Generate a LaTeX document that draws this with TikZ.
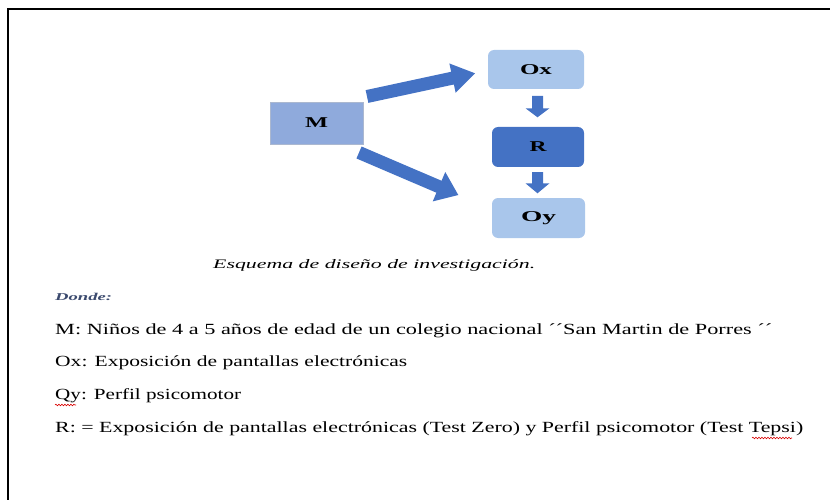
\documentclass[tikz,border=0pt]{standalone}
\usepackage{fontspec}
\usepackage{graphicx}
\setmainfont{Liberation Serif}
\usetikzlibrary{calc,decorations.pathmorphing}
\definecolor{arrblue}{HTML}{4472C4}
\definecolor{mbox}{HTML}{8FAADC}
\definecolor{obox}{HTML}{A9C6EB}
\definecolor{rbox}{HTML}{4472C4}
\definecolor{dondec}{HTML}{3B4A6E}
\newcommand\wtext[2]{\resizebox{#1}{\height}{#2}}
\newcommand\blockarr[5]{%
  \coordinate (bh) at ($(#2)!#5!(#1)$);
  \fill[arrblue] ($(#1)!#3!90:(#2)$) -- ($(bh)!#3!-90:(#1)$) -- ($(bh)!#4!-90:(#1)$) -- (#2)
    -- ($(bh)!#4!90:(#1)$) -- ($(bh)!#3!90:(#1)$) -- ($(#1)!#3!-90:(#2)$) -- cycle;}
\tikzset{
  txt/.style={inner sep=0pt, anchor=west, font=\fontsize{15.5}{18}\selectfont},
  lbl/.style={inner sep=0pt, font=\fontsize{15}{18}\selectfont\bfseries},
  squig/.style={red!85!black, line width=0.6pt, decorate, decoration={snake, amplitude=0.8pt, segment length=3pt}}
}
\begin{document}
\begin{tikzpicture}[x=1pt,y=-1pt]
\useasboundingbox (0,0) rectangle (830,500);
% frame
\draw[line width=2pt] (8,500) -- (8,9) -- (830,9);
% boxes
\node[draw=mbox!80!black!60, fill=mbox, minimum width=93pt, minimum height=42pt, inner sep=0pt] (M) at (316.5,123) {};
\node[fill=obox, rounded corners=6pt, minimum width=96pt, minimum height=39pt, inner sep=0pt] (Ox) at (536,69.5) {};
\node[fill=rbox, rounded corners=6pt, minimum width=92pt, minimum height=40pt, inner sep=0pt] (R) at (538,147) {};
\node[fill=obox, rounded corners=6pt, minimum width=93pt, minimum height=40pt, inner sep=0pt] (Oy) at (538.5,218) {};
\node[lbl] at (M) {\wtext{23pt}{M}};
\node[lbl] at (Ox) {\wtext{32pt}{Ox}};
\node[lbl] at (R) {\wtext{17pt}{R}};
\node[lbl] at (Oy) {\wtext{35pt}{Oy}};
% arrows
\coordinate (a1s) at (367,96.5);
\coordinate (a1e) at (475,73.3);
\coordinate (a2s) at (359,152.5);
\coordinate (a2e) at (458.3,195);
\coordinate (a3s) at (537.5,96);
\coordinate (a3e) at (537.5,117.3);
\coordinate (a4s) at (537.5,172);
\coordinate (a4e) at (537.5,193.3);
\blockarr{a1s}{a1e}{6.5pt}{15pt}{23pt}
\blockarr{a2s}{a2e}{6.5pt}{16pt}{21pt}
\blockarr{a3s}{a3e}{5.5pt}{12pt}{9pt}
\blockarr{a4s}{a4e}{5.5pt}{12pt}{10pt}
% texts
\node[txt, font=\fontsize{13}{15}\selectfont\itshape] (cap) at (213,265) {\wtext{322pt}{Esquema de diseño de investigación.}};
\node[txt, font=\fontsize{10.5}{12}\selectfont\bfseries\itshape, text=dondec] (donde) at (55,297) {\wtext{57pt}{Donde:}};
\node[txt] (l1) at (55,331) {\wtext{717pt}{M: Niños de 4 a 5 años de edad de un colegio nacional ´´San Martin de Porres ´´}};
\node[txt] (l2) at (55,363) {\wtext{352pt}{Ox: Exposición de pantallas electrónicas}};
\node[txt] (l3) at (55,396) {\wtext{186pt}{Qy: Perfil psicomotor}};
\node[txt] (l4) at (55,429) {\wtext{748pt}{R: = Exposición de pantallas electrónicas (Test Zero) y Perfil psicomotor (Test Tepsi)}};
\draw[squig] (55,405) -- (76,405);
\draw[squig] (752,438) -- (792,438);
\end{tikzpicture}
\end{document}
